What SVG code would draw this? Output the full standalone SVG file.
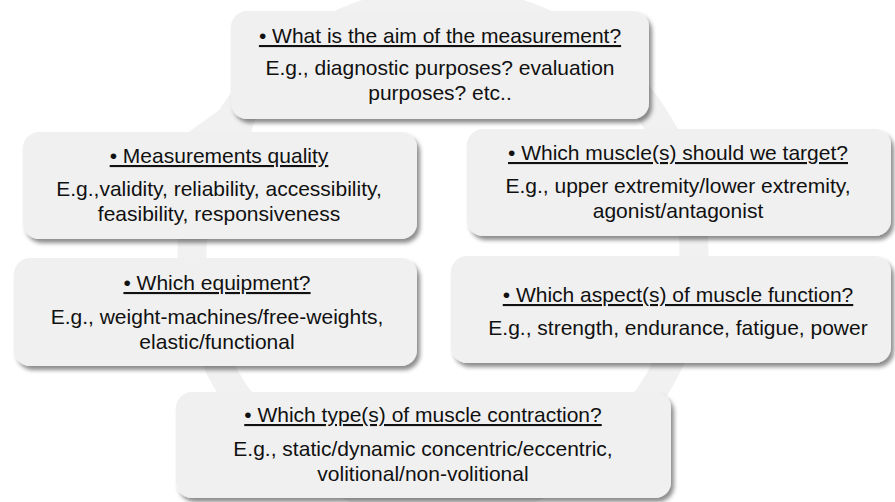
<svg xmlns="http://www.w3.org/2000/svg" width="895" height="502" viewBox="0 0 895 502">
  <defs>
    <filter id="sh" x="-5%" y="-10%" width="112%" height="125%">
      <feDropShadow dx="3" dy="4" stdDeviation="2.2" flood-color="#000" flood-opacity="0.45"/>
    </filter>
    <style>
      .box { fill: #f0f0f0; filter: url(#sh); }
      .t { font-family: "Liberation Sans", Arial, sans-serif; font-size: 21px; fill: #111; text-anchor: middle; }
      .h { text-decoration: underline; }
      .ring { fill: none; stroke: #f1f1f1; stroke-width: 29; }
      .head { fill: #f1f1f1; }
    </style>
  </defs>
  <rect width="895" height="502" fill="#fff"/>

  <g id="connectors">
    <circle class="ring" cx="443" cy="253" r="251"/>
    <polygon class="head" points="186,134 244,160 266,76"/>
  </g>

  <g id="node-aim">
    <rect class="box" x="231" y="11" width="418" height="108" rx="16"/>
    <text class="t h" x="440" y="43">• What is the aim of the measurement?</text>
    <text class="t" x="440" y="75">E.g., diagnostic purposes? evaluation</text>
    <text class="t" x="440" y="100">purposes? etc..</text>
  </g>

  <g id="node-quality">
    <rect class="box" x="23" y="132" width="394" height="107" rx="16"/>
    <text class="t h" x="219" y="163">• Measurements quality</text>
    <text class="t" x="219" y="196">E.g.,validity, reliability, accessibility,</text>
    <text class="t" x="219" y="221">feasibility, responsiveness</text>
  </g>

  <g id="node-muscle">
    <rect class="box" x="467" y="129" width="424" height="107" rx="16"/>
    <text class="t h" x="678" y="160">• Which muscle(s) should we target?</text>
    <text class="t" x="678" y="193">E.g., upper extremity/lower extremity,</text>
    <text class="t" x="678" y="218">agonist/antagonist</text>
  </g>

  <g id="node-equipment">
    <rect class="box" x="14" y="258" width="403" height="108" rx="16"/>
    <text class="t h" x="217" y="290">• Which equipment?</text>
    <text class="t" x="217" y="324">E.g., weight-machines/free-weights,</text>
    <text class="t" x="217" y="349">elastic/functional</text>
  </g>

  <g id="node-aspect">
    <rect class="box" x="451" y="256" width="440" height="107" rx="16"/>
    <text class="t h" x="678" y="302">• Which aspect(s) of muscle function?</text>
    <text class="t" x="678" y="335">E.g., strength, endurance, fatigue, power</text>
  </g>

  <g id="node-contraction">
    <rect class="box" x="176" y="392" width="495" height="106" rx="16"/>
    <text class="t h" x="423" y="422">• Which type(s) of muscle contraction?</text>
    <text class="t" x="423" y="456">E.g., static/dynamic concentric/eccentric,</text>
    <text class="t" x="423" y="481">volitional/non-volitional</text>
  </g>
</svg>
